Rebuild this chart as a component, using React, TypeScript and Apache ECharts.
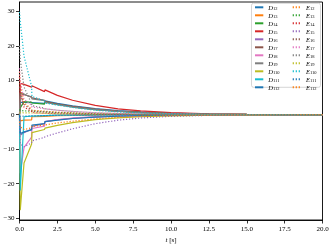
import React, { useEffect, useRef } from "react";
import * as echarts from "echarts";

const tValues = [0, 0.05, 0.3, 0.8, 0.82, 1.65, 1.68, 2.5, 3.5, 5, 6.5, 8, 10, 12.5, 15, 17.5, 20];

const D12 = [0, 3.6, 3.6, 3.5, 3.4, 3.3, 4.0, 3.3, 2.6, 1.8, 1.2, 0.8, 0.45, 0.2, 0.08, 0.03, 0];
const D13 = [0, -1.8, -1.6, -1.5, -0.6, -0.5, -0.4, -0.3, -0.22, -0.14, -0.09, -0.05, -0.03, -0.01, 0, 0, 0];
const D14 = [0, 2.0, 3.8, 3.6, 3.4, 3.1, 3.7, 3.0, 2.3, 1.5, 1.0, 0.65, 0.37, 0.16, 0.07, 0.03, 0];
const D15 = [0, 9.1, 8.8, 8.0, 8.4, 6.7, 7.2, 5.6, 4.2, 2.7, 1.7, 1.1, 0.6, 0.28, 0.12, 0.05, 0];
const D16 = [0, -6.0, -5.2, -4.2, -3.4, -2.6, -2.0, -1.5, -1.05, -0.65, -0.4, -0.25, -0.13, -0.05, -0.02, 0, 0];
const D17 = [0, 6.2, 5.8, 5.2, 4.9, 4.2, 3.9, 3.1, 2.4, 1.6, 1.05, 0.7, 0.38, 0.16, 0.07, 0.03, 0];
const D18 = [0, -17, -9.5, -6.5, -4.0, -3.3, -2.0, -1.4, -0.95, -0.6, -0.38, -0.24, -0.12, -0.05, -0.02, 0, 0];
const D19 = [0, 6.5, 6.0, 5.0, 4.6, 4.1, 3.6, 2.9, 2.2, 1.45, 0.95, 0.62, 0.34, 0.14, 0.06, 0.02, 0];
const D110 = [0, -27.7, -14, -8.5, -5.2, -4.3, -3.9, -3.1, -2.3, -1.45, -0.95, -0.6, -0.33, -0.14, -0.06, -0.02, 0];
const D111 = [0, -22, -0.6, -0.4, -0.3, -0.25, -0.2, -0.15, -0.1, -0.06, -0.04, -0.02, -0.01, 0, 0, 0, 0];
const D112 = [0, -5.5, -5.0, -4.4, -3.0, -2.6, -2.0, -1.6, -1.1, -0.7, -0.45, -0.28, -0.15, -0.06, -0.02, 0, 0];

const E12 = [12.5, 9, 3.5, 1.6, 1.3, 1.05, 0.95, 0.75, 0.55, 0.33, 0.2, 0.12, 0.06, 0.02, 0, 0, 0];
const E13 = [1.5, 1.3, 1.1, 1.0, 0.9, 0.8, 0.72, 0.58, 0.42, 0.26, 0.16, 0.1, 0.05, 0.02, 0, 0, 0];
const E14 = [11, 6.5, 2.2, 0.9, 0.6, 0.45, 0.35, 0.28, 0.2, 0.12, 0.08, 0.05, 0.03, 0.01, 0, 0, 0];
const E15 = [-1, -8.5, -9.3, -8.2, -7.6, -6.6, -6.4, -5.3, -4.1, -2.6, -1.6, -0.95, -0.48, -0.19, -0.08, -0.03, 0];
const E16 = [8, 6, 3, 1.3, 1.1, 0.85, 0.75, 0.6, 0.43, 0.26, 0.16, 0.1, 0.05, 0.02, 0, 0, 0];
const E17 = [13.5, 9.5, 4.5, 2.7, 2.2, 1.75, 1.6, 1.3, 0.95, 0.58, 0.36, 0.22, 0.11, 0.04, 0.02, 0, 0];
const E18 = [20, 16, 8, 3.2, 2.6, 1.9, 1.7, 1.3, 0.95, 0.58, 0.36, 0.22, 0.11, 0.04, 0.02, 0, 0];
const E19 = [0.6, 0.6, 0.55, 0.5, 0.45, 0.38, 0.33, 0.27, 0.2, 0.12, 0.08, 0.05, 0.02, 0.01, 0, 0, 0];
const E110 = [29.85, 27, 17, 8.2, 5.3, 4.0, 3.4, 2.8, 2.1, 1.3, 0.8, 0.5, 0.25, 0.1, 0.04, 0.01, 0];
const E111 = [-0.6, -0.5, -0.4, -0.35, -0.3, -0.25, -0.22, -0.18, -0.13, -0.08, -0.05, -0.03, -0.02, -0.01, 0, 0, 0];
const E112 = [-2, -3.5, -4.3, -3.8, -3.4, -3.0, -2.9, -2.4, -1.9, -1.2, -0.75, -0.45, -0.24, -0.1, -0.04, -0.01, 0];

const dNames = ["D12", "D13", "D14", "D15", "D16", "D17", "D18", "D19", "D110", "D111", "D112"];
const eNames = ["E12", "E13", "E14", "E15", "E16", "E17", "E18", "E19", "E110", "E111", "E112"];
const dValues = [D12, D13, D14, D15, D16, D17, D18, D19, D110, D111, D112];
const eValues = [E12, E13, E14, E15, E16, E17, E18, E19, E110, E111, E112];

const xTicks = [0, 2.5, 5, 7.5, 10, 12.5, 15, 17.5, 20];
const yTicks = [-30, -20, -10, 0, 10, 20, 30];

const tab10 = ["#1f77b4", "#ff7f0e", "#2ca02c", "#d62728", "#9467bd", "#8c564b", "#e377c2", "#7f7f7f", "#bcbd22", "#17becf"];

const FONT = "'Liberation Serif', 'DejaVu Serif', serif";

export default function App() {
  const ref = useRef<HTMLDivElement>(null);
  useEffect(() => {
    if (!ref.current) return;
    const chart = echarts.init(ref.current, undefined, { renderer: "svg" });
    const mk = (name: string, vals: number[], color: string, dotted: boolean) => ({
      name,
      type: "line",
      data: tValues.map((t, i) => [t, vals[i]]),
      showSymbol: false,
      symbol: "none",
      lineStyle: { color, width: 1.2, type: dotted ? [1.2, 1.8] : "solid" },
      itemStyle: { color },
      z: 2,
    });
    const series: any[] = [];
    dNames.forEach((n, i) => series.push(mk(n, dValues[i], tab10[i % 10], false)));
    eNames.forEach((n, i) => series.push(mk(n, eValues[i], tab10[(i + 11) % 10], true)));

    const legendBase = {
      orient: "vertical",
      top: 3.8,
      padding: 0,
      itemWidth: 8.3,
      itemHeight: 7,
      itemGap: 0.5,
      itemTextGap: 3,
      z: 6,
      itemStyle: { opacity: 0 },
      formatter: (name: string) => `{a|${name[0]}}{b|${name.slice(1)}}`,
      textStyle: {
        fontFamily: FONT,
        fontSize: 6,
        color: "#000",
        rich: {
          a: { fontFamily: FONT, fontStyle: "italic", fontSize: 6.5, color: "#000" },
          b: { fontFamily: FONT, fontSize: 4.5, color: "#000", padding: [3, 0, 0, 0] },
        },
      },
    };

    chart.setOption({
      animation: false,
      textStyle: { fontFamily: FONT },
      grid: {
        left: 19.5,
        right: 9.5,
        top: 2,
        bottom: 24,
        show: true,
        borderColor: "#000",
        borderWidth: 0.9,
        backgroundColor: "#fff",
        containLabel: false,
        outerBoundsMode: "none",
      },
      xAxis: {
        type: "value",
        min: 0,
        max: 20,
        interval: 2.5,
        name: "{i|t} [s]",
        nameLocation: "middle",
        nameGap: 15,
        nameTextStyle: {
          fontFamily: FONT,
          fontSize: 7,
          color: "#000",
          rich: { i: { fontFamily: FONT, fontStyle: "italic", fontSize: 7, color: "#000" } },
        },
        axisLine: { show: true, onZero: false, lineStyle: { color: "#000", width: 0.9 } },
        axisTick: { show: true, length: 3.5, lineStyle: { color: "#000", width: 0.8 }, customValues: xTicks },
        axisLabel: {
          margin: 5,
          fontSize: 7,
          fontFamily: FONT,
          color: "#000",
          customValues: xTicks,
          formatter: (v: number) => v.toFixed(1),
        },
        splitLine: { show: false },
      },
      yAxis: {
        type: "value",
        min: -30.58,
        max: 32.73,
        axisLine: { show: true, onZero: false, lineStyle: { color: "#000", width: 0.9 } },
        axisTick: { show: true, length: 3.5, lineStyle: { color: "#000", width: 0.8 }, customValues: yTicks },
        axisLabel: {
          margin: 5,
          fontSize: 7,
          fontFamily: FONT,
          color: "#000",
          customValues: yTicks,
          formatter: (v: number) => (v < 0 ? "\u2212" + Math.abs(v) : String(v)),
        },
        splitLine: { show: false },
      },
      legend: [
        { ...legendBase, left: 254, data: dNames },
        { ...legendBase, left: 291.7, data: eNames },
      ],
      graphic: [
        {
          type: "rect",
          z: 5,
          shape: { x: 251.5, y: 3.3, width: 69, height: 84, r: 2 },
          style: { fill: "rgba(255,255,255,0.8)", stroke: "#cccccc", lineWidth: 0.8 },
        },
      ],
      series,
    });
    return () => chart.dispose();
  }, []);
  return <div ref={ref} style={{ position: "fixed", left: 0, top: 0, width: 332, height: 244 }} />;
}
